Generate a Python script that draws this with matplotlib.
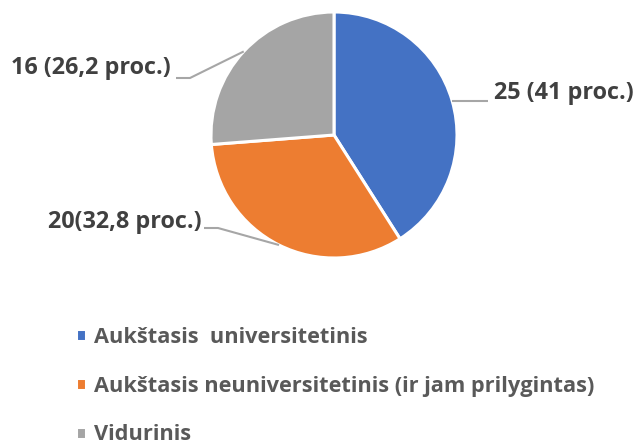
import numpy as np
import matplotlib.pyplot as plt

# duomenys
categories = ["Aukštasis  universitetinis",
              "Aukštasis neuniversitetinis (ir jam prilygintas)",
              "Vidurinis"]
counts = [25, 20, 16]
labels = ["25 (41 proc.)", "20(32,8 proc.)", "16 (26,2 proc.)"]
colors = ["#4472C4", "#ED7D31", "#A5A5A5"]

W, H = 641, 443
plt.rcParams['font.family'] = ['Open Sans', 'DejaVu Sans']

fig = plt.figure(figsize=(W / 100, H / 100), dpi=100)
ax = fig.add_axes([0, 0, 1, 1])

# pyrago centras ir spindulys (pikseliais)
cx, cy, r = 334, H - 135, 123
wedges, _ = ax.pie(counts, colors=colors, startangle=90, counterclock=False,
                   center=(cx, cy), radius=r, frame=True,
                   wedgeprops=dict(edgecolor="white", linewidth=2.2))
ax.set_xlim(0, W)
ax.set_ylim(0, H)
ax.axis("off")

# etikečių vietos: (teksto taškas, lūžio taškas, lygiavimas)
label_pos = [
    ((494, H - 93), (488, H - 99), "left"),
    ((202, H - 222), (218, H - 228), "right"),
    ((171, H - 68), (190, H - 78), "right"),
]
for w, lab, (tpos, kpos, ha) in zip(wedges, labels, label_pos):
    ang = np.deg2rad((w.theta1 + w.theta2) / 2)
    ex, ey = cx + r * np.cos(ang), cy + r * np.sin(ang)
    if ha == "left":
        xs = [ex, kpos[0]]
        ys = [ey, ey]
    else:
        xs = [ex, kpos[0], kpos[0] - 14]
        ys = [ey, kpos[1], kpos[1]]
    ax.plot(xs, ys, color="#A6A6A6", lw=1.5, solid_capstyle="butt")
    ax.text(tpos[0], tpos[1], lab, ha=ha, va="center", fontsize=16.8,
            fontweight="bold", color="#404040")

leg = ax.legend(wedges, categories, loc="upper left",
                bbox_to_anchor=(56 / W, 1 - 307 / H), frameon=False,
                handlelength=0.47, handleheight=0.47, handletextpad=0.38,
                labelspacing=1.28, prop=dict(size=15.7, weight="bold"))
for t in leg.get_texts():
    t.set_color("#595959")

plt.savefig("out.png", dpi=100)
plt.close(fig)
